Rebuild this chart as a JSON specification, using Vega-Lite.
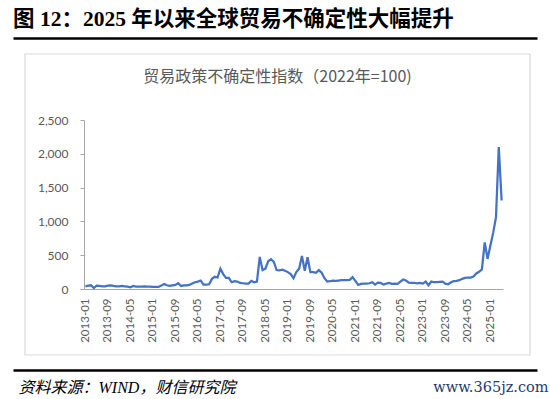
{
  "$schema": "https://vega.github.io/schema/vega-lite/v6.json",
  "padding": {"left": 13, "top": 8, "right": 0, "bottom": 0},
  "background": "white",
  "spacing": 14,
  "config": {"view": {"stroke": null}},
  "vconcat": [
    {
      "title": {"text": "图 12：2025 年以来全球贸易不确定性大幅提升", "anchor": "start", "frame": "group", "dx": -12, "offset": 8, "font": "Liberation Serif, Noto Sans CJK SC", "fontSize": 21.5, "fontWeight": "bold", "color": "#000000"},
      "width": 505,
      "height": 1,
      "data": {"values": []},
      "mark": {"type": "point", "opacity": 0},
      "encoding": {
        "x": {"field": "v", "type": "quantitative", "scale": {"domain": [0, 1], "range": [-12, 512]},
          "axis": {"orient": "top", "domain": true, "domainColor": "#000000", "domainWidth": 2.5, "ticks": false, "labels": false, "grid": false, "title": null}}
      }
    },
    {
      "title": {"text": "贸易政策不确定性指数（2022年=100)", "anchor": "middle", "frame": "group", "offset": -40, "baseline": "middle", "font": "Noto Sans CJK SC", "fontSize": 16, "fontWeight": "normal", "color": "#595959"},
      "width": 505,
      "height": 301,
      "layer": [
        {
          "data": {"values": [{"frame": "chart"}]},
          "mark": {"type": "rect", "filled": false, "fill": null, "stroke": "#d9d9d9", "strokeWidth": 1.2},
          "encoding": {
            "x": {"value": 0},
            "x2": {"value": "width"},
            "y": {"value": 0},
            "y2": {"value": "height"}
          }
        },
        {
          "data": {"values": [
            {"month": "2013-01", "value": 40}, {"month": "2013-02", "value": 50}, {"month": "2013-03", "value": 55}, {"month": "2013-04", "value": 15},
            {"month": "2013-05", "value": 50}, {"month": "2013-06", "value": 45}, {"month": "2013-07", "value": 40}, {"month": "2013-08", "value": 40},
            {"month": "2013-09", "value": 50}, {"month": "2013-10", "value": 55}, {"month": "2013-11", "value": 45}, {"month": "2013-12", "value": 40},
            {"month": "2014-01", "value": 40}, {"month": "2014-02", "value": 45}, {"month": "2014-03", "value": 40}, {"month": "2014-04", "value": 35},
            {"month": "2014-05", "value": 25}, {"month": "2014-06", "value": 45}, {"month": "2014-07", "value": 35}, {"month": "2014-08", "value": 35},
            {"month": "2014-09", "value": 35}, {"month": "2014-10", "value": 40}, {"month": "2014-11", "value": 35}, {"month": "2014-12", "value": 35},
            {"month": "2015-01", "value": 30}, {"month": "2015-02", "value": 30}, {"month": "2015-03", "value": 30}, {"month": "2015-04", "value": 50},
            {"month": "2015-05", "value": 75}, {"month": "2015-06", "value": 55}, {"month": "2015-07", "value": 45}, {"month": "2015-08", "value": 55},
            {"month": "2015-09", "value": 60}, {"month": "2015-10", "value": 85}, {"month": "2015-11", "value": 45}, {"month": "2015-12", "value": 55},
            {"month": "2016-01", "value": 55}, {"month": "2016-02", "value": 60}, {"month": "2016-03", "value": 80}, {"month": "2016-04", "value": 100},
            {"month": "2016-05", "value": 110}, {"month": "2016-06", "value": 125}, {"month": "2016-07", "value": 65}, {"month": "2016-08", "value": 65},
            {"month": "2016-09", "value": 70}, {"month": "2016-10", "value": 150}, {"month": "2016-11", "value": 180}, {"month": "2016-12", "value": 170},
            {"month": "2017-01", "value": 300}, {"month": "2017-02", "value": 220}, {"month": "2017-03", "value": 165}, {"month": "2017-04", "value": 165},
            {"month": "2017-05", "value": 100}, {"month": "2017-06", "value": 115}, {"month": "2017-07", "value": 110}, {"month": "2017-08", "value": 90},
            {"month": "2017-09", "value": 85}, {"month": "2017-10", "value": 80}, {"month": "2017-11", "value": 80}, {"month": "2017-12", "value": 120},
            {"month": "2018-01", "value": 100}, {"month": "2018-02", "value": 110}, {"month": "2018-03", "value": 475}, {"month": "2018-04", "value": 280},
            {"month": "2018-05", "value": 300}, {"month": "2018-06", "value": 410}, {"month": "2018-07", "value": 440}, {"month": "2018-08", "value": 400},
            {"month": "2018-09", "value": 280}, {"month": "2018-10", "value": 275}, {"month": "2018-11", "value": 285}, {"month": "2018-12", "value": 270},
            {"month": "2019-01", "value": 250}, {"month": "2019-02", "value": 220}, {"month": "2019-03", "value": 160}, {"month": "2019-04", "value": 250},
            {"month": "2019-05", "value": 300}, {"month": "2019-06", "value": 490}, {"month": "2019-07", "value": 270}, {"month": "2019-08", "value": 470},
            {"month": "2019-09", "value": 250}, {"month": "2019-10", "value": 250}, {"month": "2019-11", "value": 240}, {"month": "2019-12", "value": 280},
            {"month": "2020-01", "value": 240}, {"month": "2020-02", "value": 160}, {"month": "2020-03", "value": 110}, {"month": "2020-04", "value": 115},
            {"month": "2020-05", "value": 125}, {"month": "2020-06", "value": 120}, {"month": "2020-07", "value": 125}, {"month": "2020-08", "value": 130},
            {"month": "2020-09", "value": 130}, {"month": "2020-10", "value": 130}, {"month": "2020-11", "value": 135}, {"month": "2020-12", "value": 175},
            {"month": "2021-01", "value": 120}, {"month": "2021-02", "value": 60}, {"month": "2021-03", "value": 75}, {"month": "2021-04", "value": 80},
            {"month": "2021-05", "value": 80}, {"month": "2021-06", "value": 85}, {"month": "2021-07", "value": 100}, {"month": "2021-08", "value": 65},
            {"month": "2021-09", "value": 95}, {"month": "2021-10", "value": 90}, {"month": "2021-11", "value": 65}, {"month": "2021-12", "value": 80},
            {"month": "2022-01", "value": 90}, {"month": "2022-02", "value": 75}, {"month": "2022-03", "value": 80}, {"month": "2022-04", "value": 75},
            {"month": "2022-05", "value": 110}, {"month": "2022-06", "value": 140}, {"month": "2022-07", "value": 125}, {"month": "2022-08", "value": 95},
            {"month": "2022-09", "value": 90}, {"month": "2022-10", "value": 90}, {"month": "2022-11", "value": 85}, {"month": "2022-12", "value": 90},
            {"month": "2023-01", "value": 80}, {"month": "2023-02", "value": 110}, {"month": "2023-03", "value": 55}, {"month": "2023-04", "value": 110},
            {"month": "2023-05", "value": 100}, {"month": "2023-06", "value": 100}, {"month": "2023-07", "value": 105}, {"month": "2023-08", "value": 110},
            {"month": "2023-09", "value": 80}, {"month": "2023-10", "value": 70}, {"month": "2023-11", "value": 100}, {"month": "2023-12", "value": 115},
            {"month": "2024-01", "value": 120}, {"month": "2024-02", "value": 130}, {"month": "2024-03", "value": 150}, {"month": "2024-04", "value": 165},
            {"month": "2024-05", "value": 170}, {"month": "2024-06", "value": 170}, {"month": "2024-07", "value": 185}, {"month": "2024-08", "value": 230},
            {"month": "2024-09", "value": 255}, {"month": "2024-10", "value": 290}, {"month": "2024-11", "value": 690}, {"month": "2024-12", "value": 445},
            {"month": "2025-01", "value": 640}, {"month": "2025-02", "value": 830}, {"month": "2025-03", "value": 1060}, {"month": "2025-04", "value": 2100},
            {"month": "2025-05", "value": 1310}
          ]},
          "mark": {"type": "line", "color": "#4472C4", "strokeWidth": 2.25},
          "encoding": {
            "x": {"field": "month", "type": "ordinal", "sort": null,
              "scale": {"type": "point", "range": [59, 478], "padding": 0.5},
              "axis": {"values": ["2013-01","2013-09","2014-05","2015-01","2015-09","2016-05","2017-01","2017-09","2018-05","2019-01","2019-09","2020-05","2021-01","2021-09","2022-05","2023-01","2023-09","2024-05","2025-01"],
                "labelAngle": -90, "labelAlign": "right", "labelBaseline": "middle", "offset": -66, "ticks": false, "labelPadding": 9,
                "domainColor": "#a6a6a6", "domainWidth": 1, "labelColor": "#595959", "labelFont": "Lato", "labelFontSize": 11.5, "title": null, "grid": false}},
            "y": {"field": "value", "type": "quantitative",
              "scale": {"domain": [0, 2500], "range": [235, 66], "nice": false},
              "axis": {"values": [0, 500, 1000, 1500, 2000, 2500], "format": ",.0f", "offset": -59, "tickSize": 4, "labelPadding": 12,
                "tickColor": "#a6a6a6", "domainColor": "#a6a6a6", "labelColor": "#595959", "labelFont": "Lato", "labelFontSize": 12, "title": null, "grid": false}}
          }
        }
      ]
    },
    {
      "width": 505,
      "height": 1,
      "data": {"values": []},
      "mark": {"type": "point", "opacity": 0},
      "encoding": {
        "x": {"field": "v", "type": "quantitative", "scale": {"domain": [0, 1], "range": [-12, 512]},
          "axis": {"orient": "top", "domain": true, "domainColor": "#000000", "domainWidth": 2.5, "ticks": false, "labels": false, "grid": false,
            "title": "资料来源：WIND，财信研究院", "titleX": -7, "titleY": 17, "titleAlign": "left", "titleBaseline": "middle", "titleAnchor": null,
            "titleFont": "Liberation Serif, Noto Sans CJK SC", "titleFontSize": 16, "titleFontStyle": "italic", "titleFontWeight": "normal", "titleColor": "#000000"}},
        "y": {"field": "w", "type": "quantitative", "scale": {"domain": [0, 1]},
          "axis": {"orient": "right", "domain": false, "ticks": false, "labels": false, "grid": false,
            "title": "www.365jz.com", "titleAngle": 0, "titleX": 18, "titleY": 17, "titleAlign": "right", "titleBaseline": "middle", "titleAnchor": null,
            "titleFont": "DejaVu Serif", "titleFontSize": 14.5, "titleFontWeight": "normal", "titleColor": "#1F3A6E"}}
      }
    }
  ]
}
